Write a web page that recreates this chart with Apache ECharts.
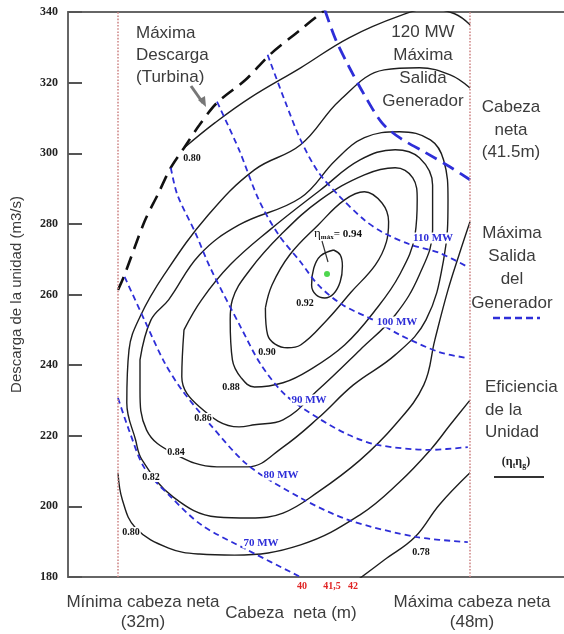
<!DOCTYPE html>
<html lang="es">
<head>
<meta charset="UTF-8">
<title>Colina de eficiencia</title>
<script src="https://cdn.jsdelivr.net/npm/echarts@6/dist/echarts.min.js"></script>
<style>
  html, body { margin: 0; padding: 0; background: #fff; }
  #main { width: 564px; height: 634px; }
</style>
</head>
<body>
<div id="main"></div>
<script>
// puntos: [cabeza neta (m), descarga (m3/s)]
var eta092 = [[41.8,272.6],[42.1,271.2],[42.2,268.1],[42.1,263.6],[41.8,260.2],[41.4,259.0],[41.0,259.9],[40.8,262.7],[40.9,267.5],[41.2,270.9],[41.8,272.6]];
var eta090 = [[38.7,256.2],[39.0,262.7],[39.8,271.2],[41.1,279.7],[42.3,286.8],[43.2,289.1],[44.0,285.9],[44.3,280.6],[44.2,274.9],[43.7,268.4],[42.6,260.7],[41.5,252.8],[40.3,245.7],[39.7,244.9],[38.8,248.6],[38.7,256.2]];
var eta088 = [[37.1,252.8],[37.2,258.5],[38.0,267.0],[39.4,276.9],[41.2,286.8],[43.2,293.9],[44.6,295.9],[45.4,293.0],[45.6,286.8],[45.5,276.9],[44.8,265.6],[43.7,255.6],[42.3,245.7],[40.7,238.6],[39.5,235.0],[38.2,233.8],[37.6,236.4],[37.2,241.5],[37.1,252.8]];
var eta086 = [[35.0,250.0],[35.8,258.5],[37.1,268.4],[38.9,278.3],[41.2,289.6],[43.0,298.1],[44.6,301.0],[45.7,298.7],[46.3,291.0],[46.3,278.3],[45.7,265.6],[44.6,254.2],[43.0,244.3],[41.1,233.0],[39.5,224.5],[38.2,223.1],[37.5,222.5],[35.7,228.2],[34.9,236.7],[35.0,250.0]];
var eta084 = [[33.0,241.5],[33.5,252.8],[34.3,258.5],[35.7,271.2],[37.5,279.7],[40.3,287.4],[41.9,298.1],[43.2,304.4],[44.8,306.1],[46.2,303.8],[46.8,298.1],[47.0,286.8],[46.8,269.8],[46.0,252.8],[44.6,242.9],[42.7,234.4],[41.1,225.0],[39.5,216.8],[37.9,211.2],[36.5,211.2],[34.5,215.1],[33.3,221.6],[33.0,233.0],[33.0,241.5]];
var eta082 = [[48.0,318.5],[47.1,322.2],[45.7,324.2],[44.1,323.6],[42.1,315.1],[40.3,302.4],[38.2,295.3],[36.1,282.5],[34.1,265.6],[33.0,253.7],[32.5,244.3],[32.4,229.3],[32.8,218.8],[33.1,213.1],[34.5,202.7],[36.5,197.0],[38.0,196.7],[39.5,198.1],[41.1,204.1],[43.0,213.1],[44.6,223.1],[45.9,234.4],[46.4,247.1],[47.0,261.3],[47.5,271.2],[48.0,280.6]];
var eta080top = [[35.0,301.5],[36.4,308.6],[38.0,315.7],[40.3,324.2],[42.5,332.7],[44.8,338.9],[46.2,340.9],[47.3,339.5],[48.0,336.4]];
var eta080low = [[32.0,209.5],[32.2,201.8],[32.8,193.9],[34.3,188.2],[35.7,186.5],[37.3,186.2],[40.3,189.1],[43.0,197.6],[44.8,206.9],[46.2,216.0],[47.1,223.1],[48.0,230.1]];
var eta078 = [[48.0,209.5],[46.6,200.4],[45.5,191.3],[44.1,184.8],[42.9,179.2]];

// maxima descarga de la turbina
var maxDischarge = [[32.0,261.3],[32.3,265.6],[33.2,280.6],[33.8,288.2],[34.4,295.9],[35.0,301.5],[35.7,308.0],[36.5,314.3],[37.8,320.8],[38.9,327.9],[40.3,335.0],[41.4,340.6]];

// salida del generador (MW)
var mw70 = [[32.0,230.7],[32.5,221.6],[33.2,210.9],[34.4,202.7],[35.8,194.7],[37.9,187.6],[40.3,180.0]];
var mw80 = [[32.3,265.0],[33.2,252.8],[34.1,240.9],[34.9,233.0],[36.2,223.1],[37.9,211.7],[40.3,202.4],[42.5,196.1],[45.6,191.3],[47.9,189.9]];
var mw90 = [[34.4,295.9],[34.7,288.2],[35.5,277.7],[36.2,267.5],[37.6,250.5],[38.5,240.1],[39.6,231.6],[41.1,225.0],[42.5,220.2],[43.8,217.4],[46.2,216.0],[47.9,216.8]];
var mw100 = [[36.5,314.6],[37.5,301.0],[38.4,286.8],[39.3,276.9],[40.3,269.2],[41.1,262.7],[42.2,257.1],[43.8,252.2],[44.8,248.6],[46.6,243.7],[47.9,242.0]];
var mw110 = [[38.8,327.9],[39.6,314.6],[40.3,303.8],[41.1,294.7],[42.1,287.6],[43.2,281.1],[44.0,277.7],[45.3,274.1],[46.6,271.8],[47.9,267.8]];
var mw120 = [[41.4,340.6],[41.9,332.1],[42.5,324.5],[43.2,316.5],[44.0,308.6],[44.8,304.4],[46.0,300.1],[47.1,296.1],[48.0,292.5]];

var bestPoint = [[41.5, 265.8]];
var headLimits = [32, 48];
var xTickValues = [40, 41.5, 42];

var chart = echarts.init(document.getElementById('main'));

function contour(d) {
  return { type: 'line', data: d, showSymbol: false, smooth: 0.4, silent: true,
           lineStyle: { color: '#1e1e1e', width: 1.4 } };
}
function mwLine(d, w, dash) {
  return { type: 'line', data: d, showSymbol: false, smooth: 0.3, silent: true,
           lineStyle: { color: '#2e2ed8', width: w, type: dash } };
}

var serifB = 'bold 10px "Liberation Serif", serif';
var sans = '17px "Liberation Sans", Arial, sans-serif';

var effLabels = [['0.80',192,158],['0.80',131,532],['0.82',151,477],['0.84',176,452],['0.86',203,418],['0.88',231,387],['0.90',267,352],['0.92',305,303],['0.78',421,552]];
var mwLabels = [['70 MW',261,543],['80 MW',281,475],['90 MW',309,400],['100 MW',397,322],['110 MW',433,238]];

var graphic = [];
effLabels.forEach(function (l) {
  graphic.push({ type: 'text', x: l[1], y: l[2], z: 10,
    style: { text: l[0], font: serifB, fill: '#111', align: 'center', verticalAlign: 'middle',
             backgroundColor: '#fff', padding: [0, 1] } });
});
mwLabels.forEach(function (l) {
  graphic.push({ type: 'text', x: l[1], y: l[2], z: 10,
    style: { text: l[0], font: 'bold 11px "Liberation Serif", serif', fill: '#2e2ed8', align: 'center', verticalAlign: 'middle',
             backgroundColor: '#fff', padding: [0, 1] } });
});
function note(txt, x, y, align, lh) {
  graphic.push({ type: 'text', x: x, y: y, z: 10,
    style: { text: txt, font: sans, fill: '#3c3c3c', align: align, verticalAlign: 'middle', lineHeight: lh } });
}
note('Máxima\nDescarga\n(Turbina)', 136, 55, 'left', 22);
note('120 MW\nMáxima\nSalida\nGenerador', 423, 67, 'center', 23);
note('Cabeza\nneta\n(41.5m)', 511, 130, 'center', 22.5);
note('Máxima\nSalida\ndel\nGenerador', 512, 268, 'center', 23.3);
note('Eficiencia\nde la\nUnidad', 485, 410, 'left', 22.5);
note('Mínima cabeza neta\n(32m)', 143, 612, 'center', 20);
note('Cabeza  neta (m)', 291, 613, 'center', 20);
note('Máxima cabeza neta\n(48m)', 472, 612, 'center', 20);

graphic.push({ type: 'text', x: 516, y: 462, z: 10,
  style: { text: '(η{s|t}η{s|g})', font: 'bold 12px "Liberation Serif", serif', fill: '#222',
           align: 'center', verticalAlign: 'middle',
           rich: { s: { fontSize: 8, fontWeight: 'bold', fontFamily: 'Liberation Serif', padding: [7, 0, 0, 0] } } } });
graphic.push({ type: 'line', shape: { x1: 494, y1: 477, x2: 544, y2: 477 }, style: { stroke: '#333', lineWidth: 2 } });
graphic.push({ type: 'line', shape: { x1: 493, y1: 318, x2: 540, y2: 318 }, style: { stroke: '#2e2ed8', lineWidth: 2.5, lineDash: [7, 4] } });
graphic.push({ type: 'line', shape: { x1: 191, y1: 86, x2: 203, y2: 103 }, style: { stroke: '#777', lineWidth: 3 } });
graphic.push({ type: 'polygon', shape: { points: [[198, 100], [206, 107], [205, 96]] }, style: { fill: '#777' } });
graphic.push({ type: 'line', shape: { x1: 322, y1: 241, x2: 328, y2: 262 }, style: { stroke: '#333', lineWidth: 1.2 } });
graphic.push({ type: 'text', x: 314, y: 234, z: 10,
  style: { text: '{e|η}{s|máx}{n|= 0.94}', align: 'left', verticalAlign: 'middle',
           rich: { e: { fontSize: 13, fontFamily: 'Liberation Serif', fill: '#111' },
                   s: { fontSize: 7, fontFamily: 'Liberation Serif', fontWeight: 'bold', fill: '#111', padding: [6, 0, 0, 0] },
                   n: { fontSize: 11, fontFamily: 'Liberation Serif', fontWeight: 'bold', fill: '#111' } } } });

var xMin = 32 - 50 / 22, xMax = xMin + 496 / 22;

chart.setOption({
  animation: false,
  backgroundColor: '#fff',
  grid: { left: 68, right: 0, top: 12, bottom: 57 },
  xAxis: [{
    type: 'value', min: xMin, max: xMax,
    axisLine: { show: true, lineStyle: { color: '#666', width: 2 } },
    axisTick: { show: false },
    splitLine: { show: false },
    axisLabel: {
      customValues: xTickValues, margin: 4,
      formatter: function (v) {
        var s = String(v).replace('.', ',');
        if (v === 40) return '{a|' + s + '}';
        if (v === 42) return '{c|' + s + '}';
        return '{b|' + s + '}';
      },
      rich: {
        a: { color: '#e02424', fontWeight: 'bold', fontSize: 10, fontFamily: 'Liberation Serif', padding: [0, 0, 0, 16] },
        b: { color: '#e02424', fontWeight: 'bold', fontSize: 10, fontFamily: 'Liberation Serif', padding: [0, 0, 0, 10] },
        c: { color: '#e02424', fontWeight: 'bold', fontSize: 10, fontFamily: 'Liberation Serif', padding: [0, 0, 0, 30] }
      }
    }
  }, {
    type: 'value', position: 'top', min: xMin, max: xMax,
    axisLine: { show: true, lineStyle: { color: '#666', width: 2 } },
    axisTick: { show: false }, axisLabel: { show: false }, splitLine: { show: false }
  }],
  yAxis: {
    type: 'value', min: 180, max: 340, interval: 20,
    name: 'Descarga de la unidad (m3/s)', nameLocation: 'middle', nameGap: 44,
    nameTextStyle: { fontFamily: 'Liberation Sans', fontSize: 15, color: '#3c3c3c' },
    axisLine: { show: true, lineStyle: { color: '#666', width: 2 } },
    axisTick: { show: true, inside: true, length: 14, lineStyle: { color: '#555', width: 2 } },
    axisLabel: { margin: 10, fontFamily: 'Liberation Serif', fontWeight: 'bold', fontSize: 12, color: '#222' },
    splitLine: { show: false }
  },
  graphic: graphic,
  series: [
    Object.assign(contour(eta092), {
      markLine: { symbol: 'none', silent: true, label: { show: false },
        lineStyle: { color: '#d08a8a', type: 'dotted', width: 1.6 },
        data: headLimits.map(function (h) { return { xAxis: h }; }) }
    }),
    contour(eta090), contour(eta088), contour(eta086), contour(eta084),
    contour(eta082), contour(eta080top), contour(eta080low), contour(eta078),
    { type: 'line', data: maxDischarge, showSymbol: false, smooth: 0.3, silent: true,
      lineStyle: { color: '#111', width: 2.6, type: [14, 8] } },
    mwLine(mw70, 1.8, [6, 4]), mwLine(mw80, 1.8, [6, 4]), mwLine(mw90, 1.8, [6, 4]),
    mwLine(mw100, 1.8, [6, 4]), mwLine(mw110, 1.8, [6, 4]), mwLine(mw120, 2.8, [13, 7]),
    { type: 'scatter', data: bestPoint, symbolSize: 6, silent: true, itemStyle: { color: '#22cc22' } }
  ]
});
</script>
</body>
</html>
